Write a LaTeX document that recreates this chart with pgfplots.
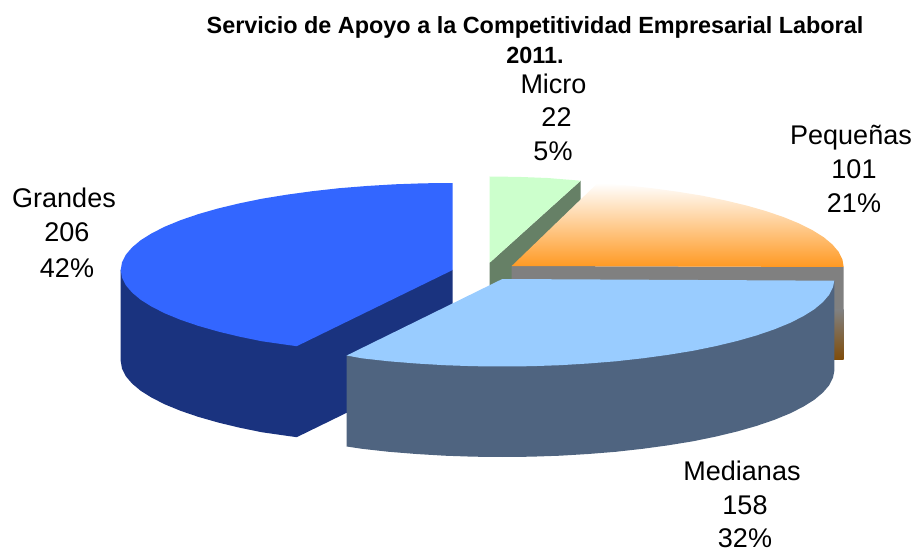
\documentclass[border=0pt]{standalone}
\usepackage{fontspec}
\setmainfont{Liberation Sans}
\usepackage{pgfplots}
\pgfplotsset{compat=1.18}
\definecolor{gtop}{HTML}{3366FF}
\definecolor{gside}{HTML}{1A337F}
\definecolor{mtop}{HTML}{99CCFF}
\definecolor{mside}{HTML}{4F6480}
\definecolor{ptop}{HTML}{FF9922}
\definecolor{pgrey}{HTML}{808080}
\definecolor{pbrown}{HTML}{804C08}
\definecolor{utop}{HTML}{CCFFCC}
\definecolor{uside}{HTML}{668066}
\newcommand{\lab}{\fontsize{27}{27}\selectfont}
\newcommand{\ttl}{\fontsize{23.4}{23.4}\selectfont\bfseries}
\begin{document}
\begin{tikzpicture}
\begin{axis}[
  at={(0pt,0pt)}, anchor=south west,
  scale only axis, width=914pt, height=548pt,
  xmin=0, xmax=914, ymin=0, ymax=548, y dir=reverse,
  hide axis, clip=false,
  every node/.style={inner sep=0pt, outer sep=0pt}]

% Micro 22 (5%)
\addplot[fill=uside, draw=none] coordinates {(489.7,262.7)(580.7,180.7)(580.7,271.7)(489.7,353.7)};
\addplot[fill=utop, draw=none] coordinates {(489.7,262.7)(489.7,176.5)(518.6,176.9)(547.5,178)(580.7,180.7)};

% Pequenas 101 (21%)
\addplot[fill=pgrey, draw=none] coordinates {(511.7,266)(843.7,267)(843.7,310)(511.7,310)};
\addplot[top color=pgrey, bottom color=pbrown, draw=none] coordinates {(511.7,310)(843.7,310)(843.7,360)(511.7,360)};
\addplot[top color=white, bottom color=ptop, draw=none] coordinates {(511.7,266)(843.7,267)(842.4,259.4)(838.7,251.9)(832.4,244.5)(823.7,237.2)(812.5,230.2)(799.2,223.5)(783.6,217.1)(766,211.1)(746.4,205.5)(725.2,200.4)(702.3,195.7)(677.7,191.7)(652.1,188.2)(625.2,185.2)(597.7,183)};

% Grandes 206 (42%)
\addplot[fill=gside, draw=none] coordinates {(120.7,270)(120.7,361)(122,368.6)(125.7,376.1)(132,383.5)(140.7,390.8)(151.9,397.8)(165.2,404.5)(180.8,410.9)(198.4,416.9)(218,422.5)(239.2,427.6)(262.1,432.3)(296.7,437.2)(452.7,361)(452.7,270)};
\addplot[fill=gtop, draw=none] coordinates {(452.7,270)(452.7,183)(423.8,183.3)(394.9,184.3)(366.7,186)(339.2,188.2)(312.3,191.2)(286.7,194.7)(262.1,198.7)(239.2,203.4)(218,208.5)(198.4,214.1)(180.8,220.1)(165.2,226.5)(151.9,233.2)(140.7,240.2)(132,247.5)(125.7,254.9)(122,262.4)(120.7,270)(122,277.6)(125.7,285.1)(132,292.5)(140.7,299.8)(151.9,306.8)(165.2,313.5)(180.8,319.9)(198.4,325.9)(218,331.5)(239.2,336.6)(262.1,341.3)(296.7,346.2)};

% Medianas 158 (32%)
\addplot[fill=mside, draw=none] coordinates {(834.3,280.7)(834.3,371.2)(833,377.6)(829.3,385.1)(823,392.5)(814.3,399.8)(803.1,406.8)(789.8,413.5)(774.2,419.9)(756.6,425.9)(737,431.5)(715.8,436.6)(692.9,441.3)(668.3,445.3)(642.7,448.8)(615.8,451.8)(588.3,454)(560.1,455.7)(531.2,456.7)(502.3,457)(473.4,456.7)(444.5,455.7)(416.3,454)(388.8,451.8)(361.9,448.8)(346.7,446.5)(346.7,355.5)};
\addplot[fill=mtop, draw=none] coordinates {(502.3,279)(834.3,280.7)(833,287.1)(829.3,294.6)(823,302)(814.3,309.3)(803.1,316.3)(789.8,323)(774.2,329.4)(756.6,335.4)(737,341)(715.8,346.1)(692.9,350.8)(668.3,354.8)(642.7,358.3)(615.8,361.3)(588.3,363.5)(560.1,365.2)(531.2,366.2)(502.3,366.5)(473.4,366.2)(444.5,365.2)(416.3,363.5)(388.8,361.3)(361.9,358.3)(346.7,355.5)};

% Title
\node[anchor=base] at (axis cs:535,34) {\ttl Servicio de Apoyo a la Competitividad Empresarial Laboral};
\node[anchor=base] at (axis cs:535,63.5) {\ttl 2011.};
% Labels
\node[anchor=base] at (axis cs:553.5,93.5) {\lab Micro};
\node[anchor=base] at (axis cs:556.5,126.5) {\lab 22};
\node[anchor=base] at (axis cs:553,160.5) {\lab 5\%};
\node[anchor=base] at (axis cs:851,144.5) {\lab Pequeñas};
\node[anchor=base] at (axis cs:854,178.5) {\lab 101};
\node[anchor=base] at (axis cs:854,212.5) {\lab 21\%};
\node[anchor=base] at (axis cs:64,207.5) {\lab Grandes};
\node[anchor=base] at (axis cs:67,241.5) {\lab 206};
\node[anchor=base] at (axis cs:67,277.5) {\lab 42\%};
\node[anchor=base] at (axis cs:742,480) {\lab Medianas};
\node[anchor=base] at (axis cs:745,514) {\lab 158};
\node[anchor=base] at (axis cs:745,547.5) {\lab 32\%};
\end{axis}
\pgfresetboundingbox
\path[use as bounding box] (0pt,0pt) rectangle (914pt,548pt);
\end{tikzpicture}
\end{document}
